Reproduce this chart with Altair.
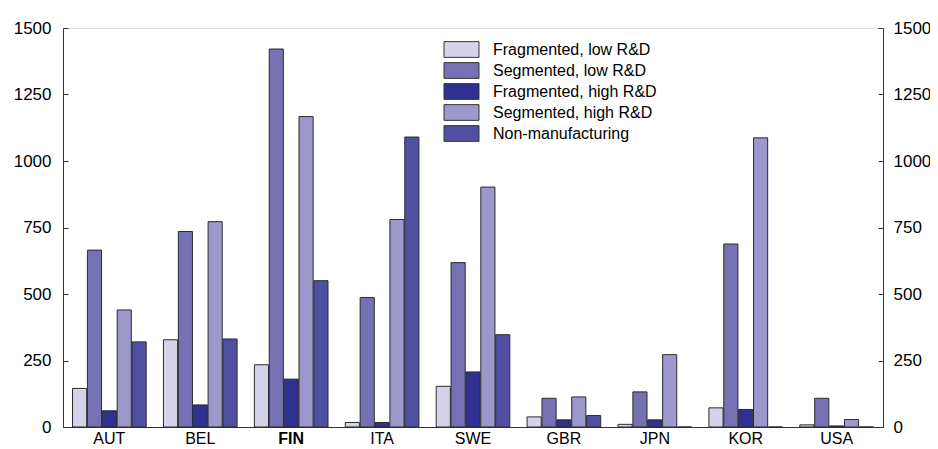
import altair as alt
import pandas as pd

countries = ["AUT", "BEL", "FIN", "ITA", "SWE", "GBR", "JPN", "KOR", "USA"]
series = ["Fragmented, low R&D", "Segmented, low R&D", "Fragmented, high R&D",
          "Segmented, high R&D", "Non-manufacturing"]
frag_low = [145, 328, 234, 17, 153, 38, 10, 72, 8]
seg_low = [665, 735, 1421, 487, 618, 108, 132, 688, 108]
frag_high = [61, 83, 180, 17, 207, 27, 27, 66, 4]
seg_high = [440, 772, 1167, 780, 902, 113, 272, 1087, 28]
non_manu = [320, 331, 550, 1090, 347, 43, 0, 0, 0]
colors = ["#d4d3ea", "#7571b2", "#2e3192", "#9c98cb", "#5050a2"]
y_ticks = [0, 250, 500, 750, 1000, 1250, 1500]

all_vals = [frag_low, seg_low, frag_high, seg_high, non_manu]
rows = []
for i, c in enumerate(countries):
    for s, vals in zip(series, all_vals):
        rows.append({"country": c, "series": s, "value": vals[i]})
df = pd.DataFrame(rows)

AX = "#333333"
FONT = "Liberation Sans"

x = alt.X("country:N", sort=countries,
          scale=alt.Scale(paddingInner=0.19, paddingOuter=0.105),
          axis=alt.Axis(title=None, labelAngle=0, ticks=False, labelPadding=3,
                        labelFontSize=16, labelColor="#000", domainColor=AX,
                        labelFontWeight=alt.ExprRef(expr="datum.value == 'FIN' ? 'bold' : 'normal'")))
xoff = alt.XOffset("series:N", sort=series, scale=alt.Scale(paddingInner=0.05))

yscale = alt.Scale(domain=[0, 1500], nice=False)
y_left = alt.Y("value:Q", scale=yscale,
               axis=alt.Axis(orient="left", values=y_ticks, format="d", title=None, grid=False,
                             tickSize=alt.ExprRef(expr="-5"), labelPadding=17,
                             labelFontSize=17, labelColor="#000",
                             domainColor=AX, tickColor=AX))
y_right = alt.Y("value:Q", scale=yscale,
                axis=alt.Axis(orient="right", values=y_ticks, format="d", title=None, grid=False,
                              tickSize=alt.ExprRef(expr="-5"), labelPadding=15,
                              labelFontSize=17, labelColor="#000",
                              domainColor=AX, tickColor=AX))

color = alt.Color("series:N", sort=series,
                  scale=alt.Scale(domain=series, range=colors),
                  legend=alt.Legend(title=None, orient="none", legendX=389, legendY=12,
                                    symbolType="M-2,-0.9H2V0.9H-2Z", symbolSize=306,
                                    symbolStrokeColor=AX, symbolStrokeWidth=1,
                                    symbolOpacity=1, labelFontSize=16, labelOffset=22,
                                    labelLimit=400, labelColor="#000", rowPadding=0, padding=0))

bars = alt.Chart(df).mark_bar(stroke="#2b2b2b", strokeWidth=1).encode(
    x=x, xOffset=xoff, y=y_left, color=color)
right = alt.Chart(df).mark_tick(opacity=0).encode(y=y_right)

chart = alt.layer(bars, right).resolve_scale(y="independent").properties(
    width=820, height=399,
    autosize=alt.AutoSizeParams(type="none"),
    padding={"left": 55, "top": 20, "right": 47, "bottom": 20},
).configure_view(stroke=AX, strokeWidth=1).configure(font=FONT)

chart.save("out.html", embed_options={"renderer": "svg", "actions": False})
